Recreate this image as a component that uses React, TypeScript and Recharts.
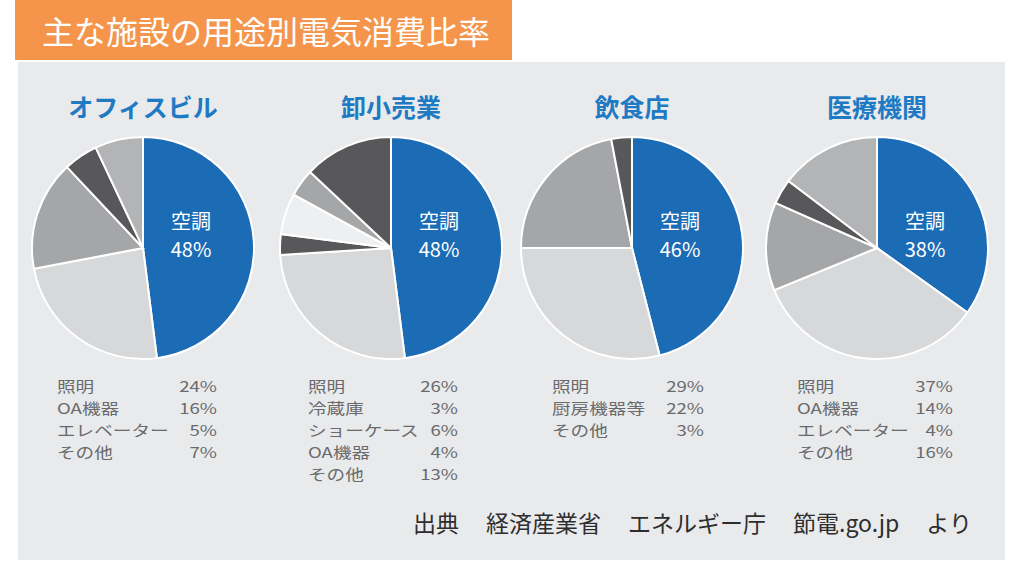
import { PieChart, Pie, Cell } from "recharts";

const facilityNames = ["オフィスビル", "卸小売業", "飲食店", "医療機関"];

const officeUses = ["空調", "照明", "OA機器", "エレベーター", "その他"];
const officeShares = [48, 24, 16, 5, 7];

const retailUses = ["空調", "照明", "冷蔵庫", "ショーケース", "OA機器", "その他"];
const retailShares = [48, 26, 3, 6, 4, 13];

const restaurantUses = ["空調", "照明", "厨房機器等", "その他"];
const restaurantShares = [46, 29, 22, 3];

const hospitalUses = ["空調", "照明", "OA機器", "エレベーター", "その他"];
const hospitalShares = [38, 37, 14, 4, 16];

const sourceParts = ["出典", "経済産業省", "エネルギー庁", "節電.go.jp", "より"];

// slice colours, per facility
const BLUE = "#1c6bb5";
const LIGHT = "#d7d8da";
const MID = "#a5a6a8";
const DARK = "#58585b";
const officeColors = [BLUE, LIGHT, MID, DARK, "#b3b4b6"];
const retailColors = [BLUE, LIGHT, DARK, "#eeeff0", MID, DARK];
const restaurantColors = [BLUE, LIGHT, MID, DARK];
const hospitalColors = [BLUE, LIGHT, MID, DARK, "#b3b4b6"];

const FONT = "'Noto Sans CJK JP', 'Noto Sans', sans-serif";

const toRows = (uses: string[], shares: number[]) =>
  uses.map((name, i) => ({ name, value: shares[i] }));

const panels = [
  { rows: toRows(officeUses, officeShares), colors: officeColors, cx: 143, legendX: 57, legendW: 160 },
  { rows: toRows(retailUses, retailShares), colors: retailColors, cx: 391, legendX: 308, legendW: 150 },
  { rows: toRows(restaurantUses, restaurantShares), colors: restaurantColors, cx: 632, legendX: 552, legendW: 152 },
  { rows: toRows(hospitalUses, hospitalShares), colors: hospitalColors, cx: 877, legendX: 797, legendW: 156 },
];

const CY = 248;
// the legend type in the original is a wide gothic; stretch a smaller font sideways
const LEGEND_STRETCH = 1.24;

const renderMainLabel = (props: any) => {
  const { cx, cy, index, payload } = props;
  if (index !== 0) return null;
  const x = cx + 48;
  return (
    <g>
      <text x={x} y={cy - 19} textAnchor="middle" fill="#ffffff" fontSize={20} fontFamily={FONT}>
        {payload.name}
      </text>
      <text x={x} y={cy + 9} textAnchor="middle" fill="#ffffff" fontSize={20} fontFamily={FONT}>
        {payload.value}%
      </text>
    </g>
  );
};

export default function App() {
  return (
    <div
      style={{
        position: "absolute",
        left: 0,
        top: 0,
        width: 1024,
        height: 570,
        background: "#ffffff",
        fontFamily: FONT,
        overflow: "hidden",
      }}
    >
      <div
        style={{
          position: "absolute",
          left: 15,
          top: 0,
          width: 497,
          height: 60,
          background: "#f5954b",
          color: "#ffffff",
          fontSize: 32,
          lineHeight: "60px",
          paddingLeft: 27,
          boxSizing: "border-box",
          whiteSpace: "nowrap",
        }}
      >
        主な施設の用途別電気消費比率
      </div>
      <div
        style={{
          position: "absolute",
          left: 18,
          top: 62,
          width: 987,
          height: 498,
          background: "#e9eaec",
        }}
      />

      {panels.map((p, i) => (
        <div
          key={"t" + i}
          style={{
            position: "absolute",
            left: p.cx - 120,
            width: 240,
            top: 89,
            textAlign: "center",
            color: "#1e7bc3",
            fontWeight: 700,
            fontSize: 25,
            lineHeight: "34px",
          }}
        >
          {facilityNames[i]}
        </div>
      ))}

      <div style={{ position: "absolute", left: 0, top: 0 }}>
        <PieChart width={1024} height={570} margin={{ top: 0, right: 0, bottom: 0, left: 0 }}>
          {panels.map((p, i) => (
            <Pie
              key={i}
              data={p.rows}
              dataKey="value"
              nameKey="name"
              cx={p.cx}
              cy={CY}
              outerRadius={111}
              startAngle={90}
              endAngle={-270}
              stroke="#ffffff"
              strokeWidth={2}
              label={renderMainLabel}
              labelLine={false}
              isAnimationActive={false}
            >
              {p.rows.map((_, j) => (
                <Cell key={j} fill={p.colors[j]} />
              ))}
            </Pie>
          ))}
        </PieChart>
      </div>

      {panels.map((p, i) => (
        <div
          key={"l" + i}
          style={{
            position: "absolute",
            left: p.legendX,
            top: 375,
            width: p.legendW / LEGEND_STRETCH,
            transform: `scaleX(${LEGEND_STRETCH})`,
            transformOrigin: "0 0",
            color: "#6a6a6c",
            fontSize: 15,
            lineHeight: "22px",
          }}
        >
          {p.rows.slice(1).map((r) => (
            <div key={r.name} style={{ display: "flex", justifyContent: "space-between", whiteSpace: "nowrap" }}>
              <span>{r.name}</span>
              <span>{r.value}%</span>
            </div>
          ))}
        </div>
      ))}

      <div
        style={{
          position: "absolute",
          left: 413,
          top: 506,
          display: "flex",
          gap: 27,
          color: "#2e2e2e",
          fontSize: 23,
          lineHeight: "32px",
          whiteSpace: "nowrap",
        }}
      >
        {sourceParts.map((s) => (
          <span key={s}>{s}</span>
        ))}
      </div>
    </div>
  );
}
